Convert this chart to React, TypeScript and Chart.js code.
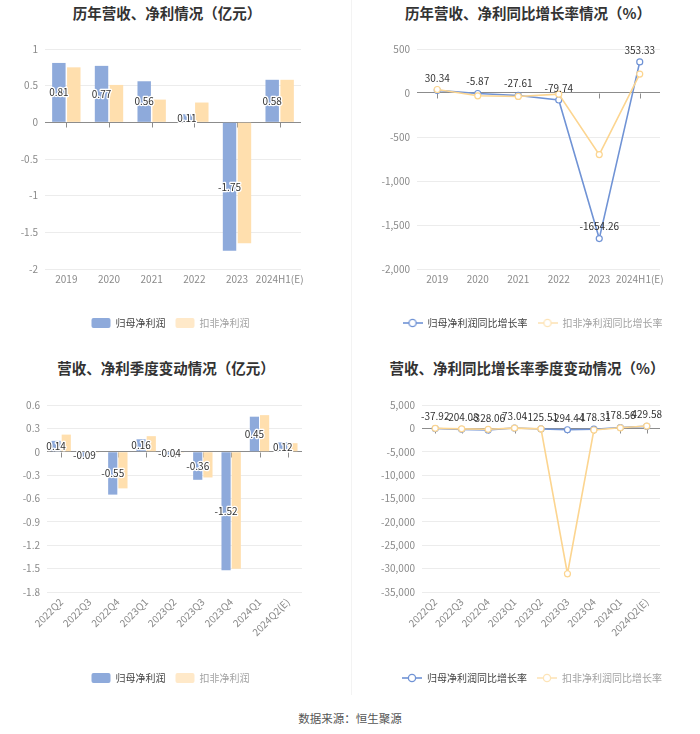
import React, { useEffect, useRef } from "react";
import { Chart, registerables } from "chart.js";
Chart.register(...registerables);

const FONT = "'Noto Sans CJK SC', 'Noto Sans', sans-serif";

// ---- data ----
const annualCats = ["2019", "2020", "2021", "2022", "2023", "2024H1(E)"];
const annualNet = [0.81, 0.77, 0.56, 0.11, -1.75, 0.58];
const annualDeduct = [0.75, 0.51, 0.31, 0.27, -1.65, 0.58];
const annualNetYoY = [30.34, -5.87, -27.61, -79.74, -1654.26, 353.33];
const annualDeductYoY = [40, -32, -39, -13, -700, 215];

const quarterCats = ["2022Q2", "2022Q3", "2022Q4", "2023Q1", "2023Q2", "2023Q3", "2023Q4", "2024Q1", "2024Q2(E)"];
const quarterNet = [0.14, -0.09, -0.55, 0.16, -0.04, -0.36, -1.52, 0.45, 0.12];
const quarterDeduct = [0.22, -0.01, -0.47, 0.2, -0.01, -0.33, -1.5, 0.47, 0.11];
const quarterNetYoY = [-37.92, -204.08, -328.06, 73.04, -125.51, -294.44, -178.31, 178.56, 429.58];
const quarterDeductYoY = [20, -100, -200, 60, -105, -31100, -350, 124, 500];

const annualAmtTicks = [1, 0.5, 0, -0.5, -1, -1.5, -2];
const annualRateTicks = [500, 0, -500, -1000, -1500, -2000];
const quarterAmtTicks = [0.6, 0.3, 0, -0.3, -0.6, -0.9, -1.2, -1.5, -1.8];
const quarterRateTicks = [5000, 0, -5000, -10000, -15000, -20000, -25000, -30000, -35000];

const barLegend = ["归母净利润", "扣非净利润"];
const lineLegend = ["归母净利润同比增长率", "扣非净利润同比增长率"];

// ---- styles ----
const BLUE_BAR = "#8eaadb";
const YELLOW_BAR = "#ffdfae";
const BLUE_LINE = "#7093d5";
const YELLOW_LINE = "#fcd590";
const TICK_COLOR = "#8a8a8a";

const fmtPlain = (v: number) => String(Math.round(v * 100) / 100);
const fmtComma = (v: number) => Math.round(v).toLocaleString("en-US");

function makeIcon(color: string) {
  const c = document.createElement("canvas");
  c.width = 20;
  c.height = 10;
  const g = c.getContext("2d")!;
  g.strokeStyle = color;
  g.lineWidth = 1.6;
  g.beginPath();
  g.moveTo(0, 5);
  g.lineTo(20, 5);
  g.stroke();
  g.beginPath();
  g.arc(10, 5, 3.6, 0, Math.PI * 2);
  g.fillStyle = "#fff";
  g.fill();
  g.lineWidth = 1.3;
  g.stroke();
  return c;
}

function valuePlugin(mode: "center" | "above") {
  return {
    id: "valueLabels",
    afterDatasetsDraw(chart: any) {
      const ctx = chart.ctx;
      const meta = chart.getDatasetMeta(0);
      const vals = chart.data.datasets[0].data as number[];
      ctx.save();
      ctx.font = `10px ${FONT}`;
      ctx.textAlign = "center";
      ctx.textBaseline = "middle";
      meta.data.forEach((el: any, i: number) => {
        const t = vals[i].toFixed(2);
        const y = mode === "center" ? (el.y + el.base) / 2 : el.y - 12;
        if (mode === "center") {
          ctx.lineWidth = 2.5;
          ctx.strokeStyle = "#fff";
          ctx.lineJoin = "round";
          ctx.strokeText(t, el.x, y);
        }
        ctx.fillStyle = "#333";
        ctx.fillText(t, el.x, y);
      });
      ctx.restore();
    },
  };
}

const zeroTicks = {
  id: "zeroTicks",
  beforeDatasetsDraw(chart: any) {
    const { ctx, scales } = chart;
    const y0 = Math.round(scales.y.getPixelForValue(0)) + 0.5;
    ctx.save();
    ctx.strokeStyle = "#8c8c8c";
    ctx.lineWidth = 1;
    ctx.beginPath();
    chart.data.labels.forEach((_: any, i: number) => {
      const x = Math.round(scales.x.getPixelForValue(i)) + 0.5;
      ctx.moveTo(x, y0);
      ctx.lineTo(x, y0 + 5);
    });
    ctx.stroke();
    ctx.restore();
  },
};

type Panel = {
  type: "bar" | "line";
  labels: string[];
  names: string[];
  a: number[];
  b: number[];
  yTicks: number[];
  fmt: (v: number) => string;
  yWidth: number;
  y2Width: number;
  padL: number;
  padR: number;
  padTop: number;
  xHeight: number;
  xPad: number;
  rot: number;
  catPct: number;
};

function makeConfig(p: Panel): any {
  const isBar = p.type === "bar";
  const asc = [...p.yTicks].sort((a, b) => a - b);
  const datasets = isBar
    ? [
        { label: p.names[0], data: p.a, backgroundColor: BLUE_BAR, categoryPercentage: p.catPct, barPercentage: 0.9, yAxisID: "y" },
        { label: p.names[1], data: p.b, backgroundColor: YELLOW_BAR, categoryPercentage: p.catPct, barPercentage: 0.9, yAxisID: "y" },
      ]
    : [
        {
          label: p.names[0], data: p.a, borderColor: BLUE_LINE, backgroundColor: "#fff",
          pointBackgroundColor: "#fff", pointBorderColor: BLUE_LINE, pointRadius: 3, pointBorderWidth: 1.2,
          borderWidth: 1.6, order: 2, yAxisID: "y", tension: 0,
        },
        {
          label: p.names[1], data: p.b, borderColor: YELLOW_LINE, backgroundColor: "#fff",
          pointBackgroundColor: "#fff", pointBorderColor: YELLOW_LINE, pointRadius: 3, pointBorderWidth: 1.2,
          borderWidth: 1.6, order: 1, yAxisID: "y", tension: 0,
        },
      ];
  return {
    type: p.type,
    data: { labels: p.labels, datasets },
    plugins: [zeroTicks, valuePlugin(isBar ? "center" : "above")],
    options: {
      responsive: false,
      animation: false,
      devicePixelRatio: 1,
      layout: { padding: { left: p.padL, right: p.padR, top: p.padTop, bottom: 2 } },
      plugins: {
        tooltip: { enabled: false },
        legend: {
          position: "bottom",
          labels: {
            font: { size: 10, family: FONT },
            boxWidth: 19,
            boxHeight: 10,
            padding: 10,
            usePointStyle: !isBar,
            pointStyleWidth: 20,
            useBorderRadius: true,
            borderRadius: 2,
            generateLabels: (chart: any) => {
              const items = (Chart.defaults.plugins.legend.labels as any).generateLabels(chart);
              items.sort((m: any, n: any) => m.datasetIndex - n.datasetIndex);
              return items.map((it: any) => {
                const i = it.datasetIndex;
                return {
                  ...it,
                  fontColor: i === 0 ? "#444" : "#a3a3a3",
                  fillStyle: isBar ? (i === 0 ? BLUE_BAR : "#ffe9c9") : "#fff",
                  strokeStyle: "rgba(0,0,0,0)",
                  lineWidth: 0,
                  borderRadius: 2,
                  pointStyle: isBar ? it.pointStyle : makeIcon(i === 0 ? BLUE_LINE : "#fde4b8"),
                };
              });
            },
          },
        },
      },
      scales: {
        x: {
          offset: true,
          grid: { display: false, drawTicks: false },
          border: { display: false },
          afterFit: (s: any) => { s.height = p.xHeight; },
          ticks: {
            color: TICK_COLOR,
            font: { size: 10, family: FONT },
            padding: p.xPad,
            autoSkip: false,
            maxRotation: p.rot,
            minRotation: p.rot,
          },
        },
        y: {
          type: "linear",
          position: "left",
          min: asc[0],
          max: asc[asc.length - 1],
          afterBuildTicks: (axis: any) => { axis.ticks = asc.map((v) => ({ value: v })); },
          afterFit: (s: any) => { s.width = p.yWidth; },
          border: { display: false },
          grid: {
            drawTicks: false,
            color: (c: any) => (c.tick && c.tick.value === 0 ? "#8c8c8c" : "#ececec"),
            lineWidth: 1,
          },
          ticks: {
            color: TICK_COLOR,
            padding: 7,
            font: { size: 10, family: FONT },
            callback: (v: any) => p.fmt(Number(v)),
          },
        },
        y2: {
          type: "linear",
          position: "right",
          display: true,
          afterFit: (s: any) => { s.width = p.y2Width; },
          grid: { display: false, drawTicks: false },
          border: { display: false },
          ticks: { display: false },
        },
      },
    },
  };
}

function ChartBox({ left, top, width, height, panel }: { left: number; top: number; width: number; height: number; panel: Panel }) {
  const ref = useRef<HTMLCanvasElement>(null);
  useEffect(() => {
    const chart = new Chart(ref.current!, makeConfig(panel));
    return () => chart.destroy();
  }, []);
  return (
    <div style={{ position: "absolute", left, top, width, height }}>
      <canvas ref={ref} width={width} height={height} style={{ width, height, display: "block" }} />
    </div>
  );
}

function Title({ cx, cy, text }: { cx: number; cy: number; text: string }) {
  return (
    <div
      style={{
        position: "absolute",
        left: cx,
        top: cy,
        transform: "translate(-50%, -50%)",
        whiteSpace: "nowrap",
        fontFamily: FONT,
        fontWeight: 700,
        fontSize: 14.5,
        color: "#333",
      }}
    >
      {text}
    </div>
  );
}

const panelTL: Panel = {
  type: "bar", labels: annualCats, names: barLegend, a: annualNet, b: annualDeduct, yTicks: annualAmtTicks, fmt: fmtPlain,
  yWidth: 45, y2Width: 40, padL: 0, padR: 9, padTop: 19, xHeight: 39, xPad: 4, rot: 0, catPct: 0.7,
};
const panelTR: Panel = {
  type: "line", labels: annualCats, names: lineLegend, a: annualNetYoY, b: annualDeductYoY, yTicks: annualRateTicks, fmt: fmtComma,
  yWidth: 52, y2Width: 40, padL: 15, padR: 0, padTop: 19, xHeight: 39, xPad: 4, rot: 0, catPct: 0.8,
};
const panelBL: Panel = {
  type: "bar", labels: quarterCats, names: barLegend, a: quarterNet, b: quarterDeduct, yTicks: quarterAmtTicks, fmt: fmtPlain,
  yWidth: 47, y2Width: 39, padL: 0, padR: 9, padTop: 20, xHeight: 71, xPad: 4, rot: 45, catPct: 0.72,
};
const panelBR: Panel = {
  type: "line", labels: quarterCats, names: lineLegend, a: quarterNetYoY, b: quarterDeductYoY, yTicks: quarterRateTicks, fmt: fmtComma,
  yWidth: 58, y2Width: 40, padL: 14, padR: 0, padTop: 20, xHeight: 71, xPad: 4, rot: 45, catPct: 0.8,
};

export default function App() {
  return (
    <div
      style={{
        position: "absolute",
        left: 0,
        top: 0,
        width: 700,
        height: 734,
        background: "#fff",
        overflow: "hidden",
        fontFamily: FONT,
      }}
    >
      <div style={{ position: "absolute", left: 351, top: 0, width: 1, height: 695, background: "#f3f3f3" }} />
      <Title cx={167} cy={12} text="历年营收、净利情况（亿元）" />
      <Title cx={528} cy={12} text="历年营收、净利同比增长率情况（%）" />
      <Title cx={166} cy={367} text="营收、净利季度变动情况（亿元）" />
      <Title cx={527} cy={367} text="营收、净利同比增长率季度变动情况（%）" />
      <ChartBox left={0} top={30} width={350} height={310} panel={panelTL} />
      <ChartBox left={350} top={30} width={350} height={310} panel={panelTR} />
      <ChartBox left={0} top={385} width={350} height={310} panel={panelBL} />
      <ChartBox left={350} top={385} width={350} height={310} panel={panelBR} />
      <div
        style={{
          position: "absolute",
          left: 350,
          top: 718,
          transform: "translate(-50%, -50%)",
          whiteSpace: "nowrap",
          fontSize: 11.5,
          color: "#555",
          fontFamily: FONT,
        }}
      >
        数据来源：恒生聚源
      </div>
    </div>
  );
}
